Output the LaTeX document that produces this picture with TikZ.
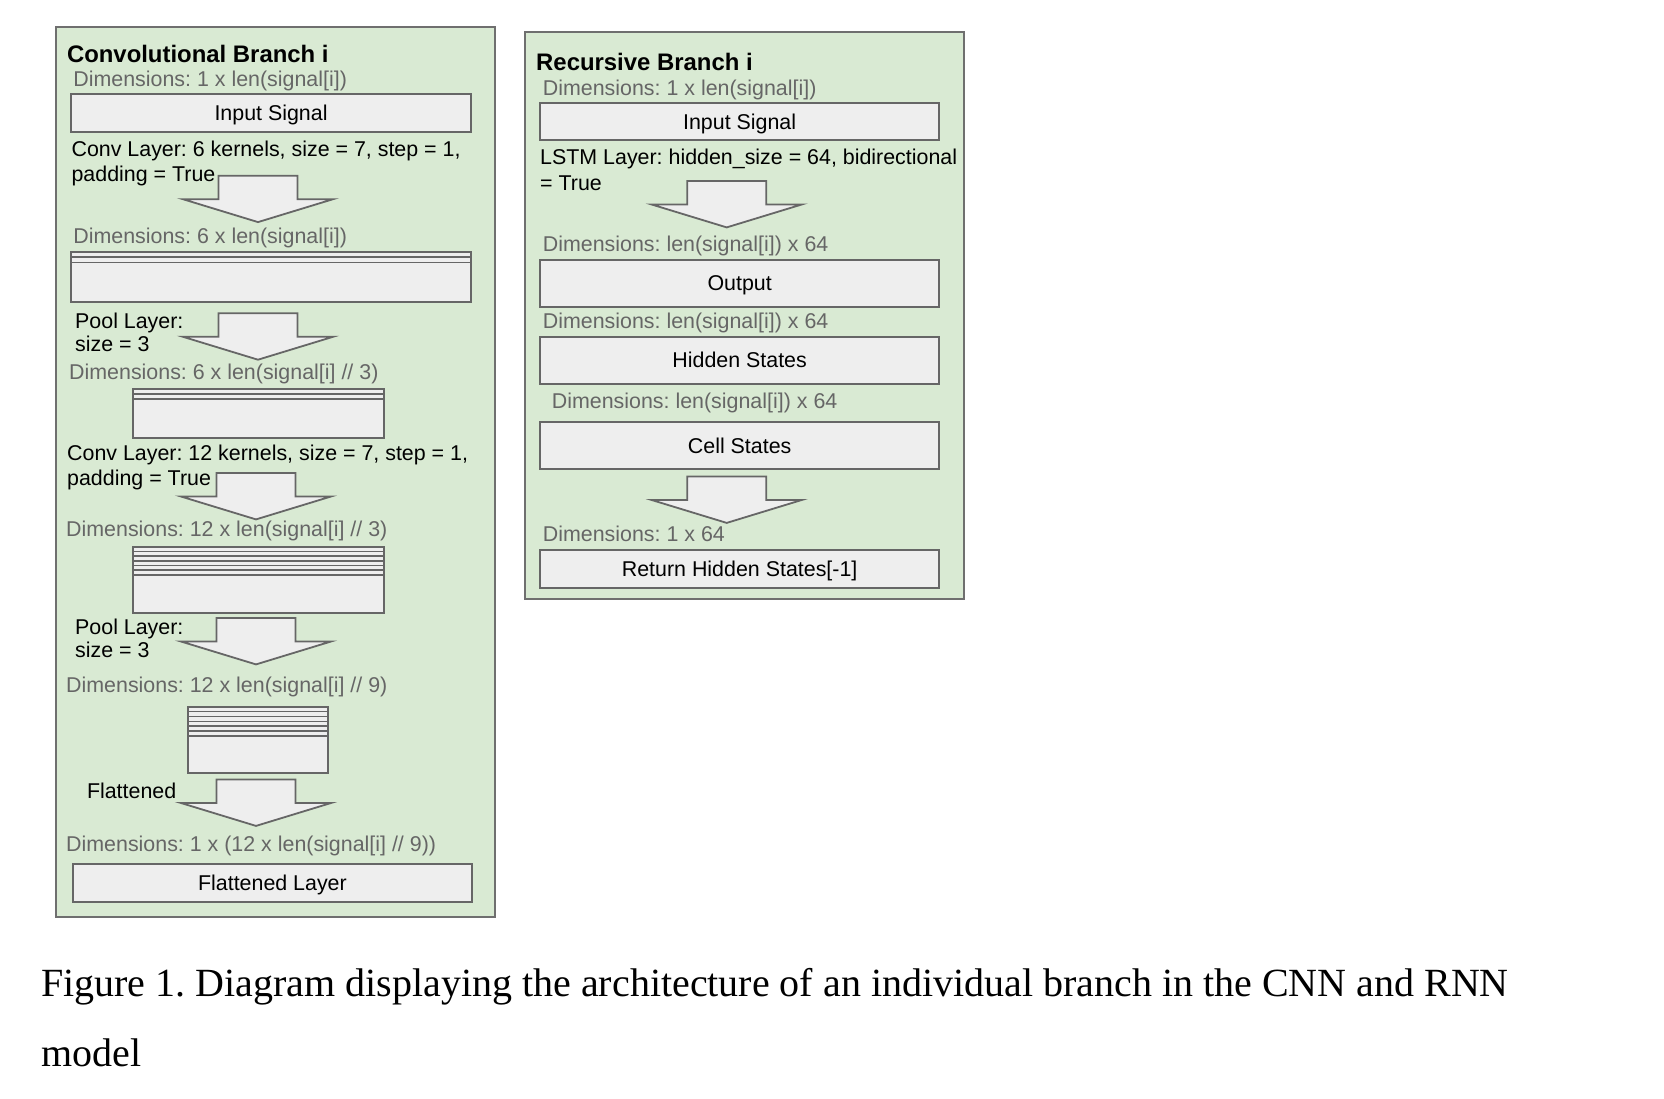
\documentclass[tikz,border=0pt]{standalone}
\usepackage{fontspec}
\setmainfont{Liberation Sans}
\newfontfamily\capfont{Liberation Serif}
\usetikzlibrary{calc}
\frenchspacing
\definecolor{panelgreen}{HTML}{D9EAD3}
\definecolor{panelborder}{HTML}{6F6F6F}
\definecolor{boxfill}{HTML}{EEEEEE}
\definecolor{boxborder}{HTML}{666666}
\definecolor{dimgraytxt}{HTML}{666666}
\tikzset{
  panel/.style={draw=panelborder, fill=panelgreen, line width=2pt},
  layerbox/.style={draw=boxborder, fill=boxfill, line width=2pt, inner sep=0pt, outer sep=0pt,
    text depth=0pt, font=\fontsize{21.4}{25}\selectfont, text=black},
  sliceline/.style={draw=boxborder, line width=1.6pt},
  dimtxt/.style={inner sep=0pt, anchor=base west, text=dimgraytxt, font=\fontsize{21.4}{25}\selectfont},
  lbltxt/.style={inner sep=0pt, anchor=base west, text=black, font=\fontsize{21.4}{25}\selectfont},
  titletxt/.style={inner sep=0pt, anchor=base west, text=black, font=\fontsize{23.9}{28}\selectfont\bfseries},
  captxt/.style={inner sep=0pt, anchor=base west, text=black, font=\fontsize{40}{48}\selectfont\capfont},
  blockarrow/.style={draw=boxborder, fill=boxfill, line width=1.8pt, line join=miter},
  barrow/.pic={
    \draw[blockarrow] (-39.5,0) -- (39.5,0) -- (39.5,23.5) -- (75,23.5) -- (0,46.4)
      -- (-75,23.5) -- (-39.5,23.5) -- cycle;
  }
}
\begin{document}
\frenchspacing
\begin{tikzpicture}[x=1pt,y=-1pt]
\useasboundingbox (0,0) rectangle (1664,1098);
\fill[white] (0,0) rectangle (1664,1098);

% ---------------- Convolutional branch ----------------
\draw[panel] (56,26.7) rectangle (495,917);
\node[titletxt] (ctitle) at (66.8,62.3) {Convolutional Branch i};
\node[dimtxt] (cd1) at (73.2,86.7) {Dimensions: 1 x len(signal[i])};
\node[layerbox, minimum width=399.3pt, minimum height=38pt] (cin) at (271.05,113) {Input Signal};
\node[lbltxt] (cconv1a) at (71.4,156.7) {Conv Layer: 6 kernels, size = 7, step = 1,};
\node[lbltxt] (cconv1b) at (71.4,181.7) {padding = True};
\pic at (258,175.7) {barrow};
\node[dimtxt] (cd2) at (73.2,243.3) {Dimensions: 6 x len(signal[i])};
\node[layerbox, minimum width=399.3pt, minimum height=49.7pt] (cl1) at (271.05,276.85) {};
\foreach \k in {1,2}{
  \draw[sliceline] ($(cl1.north west)+(0,5.2*\k)$) -- ($(cl1.north east)+(0,5.2*\k)$);
}
\node[lbltxt] (cpool1a) at (75,328.3) {Pool Layer:};
\node[lbltxt] (cpool1b) at (75,351.7) {size = 3};
\pic at (258,313.3) {barrow};
\node[dimtxt] (cd3) at (69,379.3) {Dimensions: 6 x len(signal[i] // 3)};
\node[layerbox, minimum width=251.1pt, minimum height=49.2pt] (cl2) at (258.45,413.3) {};
\foreach \k in {1,2}{
  \draw[sliceline] ($(cl2.north west)+(0,5.2*\k)$) -- ($(cl2.north east)+(0,5.2*\k)$);
}
\node[lbltxt] (cconv2a) at (67,460.3) {Conv Layer: 12 kernels, size = 7, step = 1,};
\node[lbltxt] (cconv2b) at (67,485.4) {padding = True};
\pic at (256,473) {barrow};
\node[dimtxt] (cd4) at (66,536) {Dimensions: 12 x len(signal[i] // 3)};
\node[layerbox, minimum width=251.1pt, minimum height=66.1pt] (cl3) at (258.45,579.75) {};
\foreach \k in {1,...,6}{
  \draw[sliceline] ($(cl3.north west)+(0,4.67*\k)$) -- ($(cl3.north east)+(0,4.67*\k)$);
}
\node[lbltxt] (cpool2a) at (75,634.2) {Pool Layer:};
\node[lbltxt] (cpool2b) at (75,657.6) {size = 3};
\pic at (256,618) {barrow};
\node[dimtxt] (cd5) at (66,692) {Dimensions: 12 x len(signal[i] // 9)};
\node[layerbox, minimum width=139.3pt, minimum height=65.9pt] (cl4) at (257.85,739.65) {};
\foreach \k in {1,...,6}{
  \draw[sliceline] ($(cl4.north west)+(0,4.88*\k)$) -- ($(cl4.north east)+(0,4.88*\k)$);
}
\node[lbltxt] (cflat) at (86.8,798.4) {Flattened};
\pic at (256,779.5) {barrow};
\node[dimtxt] (cd6) at (66,851) {Dimensions: 1 x (12 x len(signal[i] // 9))};
\node[layerbox, minimum width=398.5pt, minimum height=37.7pt] (cout) at (272.45,882.85) {Flattened Layer};

% ---------------- Recursive branch ----------------
\draw[panel] (525,32.4) rectangle (964,599);
\node[titletxt] (rtitle) at (536,70.4) {Recursive Branch i};
\node[dimtxt] (rd1) at (542.7,95.7) {Dimensions: 1 x len(signal[i])};
\node[layerbox, minimum width=399.3pt, minimum height=37.6pt] (rin) at (739.65,121.6) {Input Signal};
\node[lbltxt] (rlstma) at (540,164) {LSTM Layer: hidden\_size = 64, bidirectional};
\node[lbltxt] (rlstmb) at (540,190.6) {= True};
\pic at (726.7,181) {barrow};
\node[dimtxt] (rd2) at (542.7,251.9) {Dimensions: len(signal[i]) x 64};
\node[layerbox, minimum width=399.3pt, minimum height=46.6pt] (rout) at (739.65,283.5) {Output};
\node[dimtxt] (rd3) at (542.7,328.2) {Dimensions: len(signal[i]) x 64};
\node[layerbox, minimum width=399.3pt, minimum height=46.6pt] (rhid) at (739.65,360.2) {Hidden States};
\node[dimtxt] (rd4) at (551.7,408.5) {Dimensions: len(signal[i]) x 64};
\node[layerbox, minimum width=399.3pt, minimum height=47.1pt] (rcell) at (739.65,445.85) {Cell States};
\pic at (726.7,476.5) {barrow};
\node[dimtxt] (rd5) at (542.7,541.7) {Dimensions: 1 x 64};
\node[layerbox, minimum width=399.3pt, minimum height=38.4pt] (rret) at (739.65,568.8) {Return Hidden States[-1]};

% ---------------- Caption ----------------
\node[captxt] (cap1) at (41,996.7) {Figure 1. Diagram displaying the architecture of an individual branch in the CNN and RNN};
\node[captxt] (cap2) at (41,1066.7) {model};
\end{tikzpicture}
\end{document}
